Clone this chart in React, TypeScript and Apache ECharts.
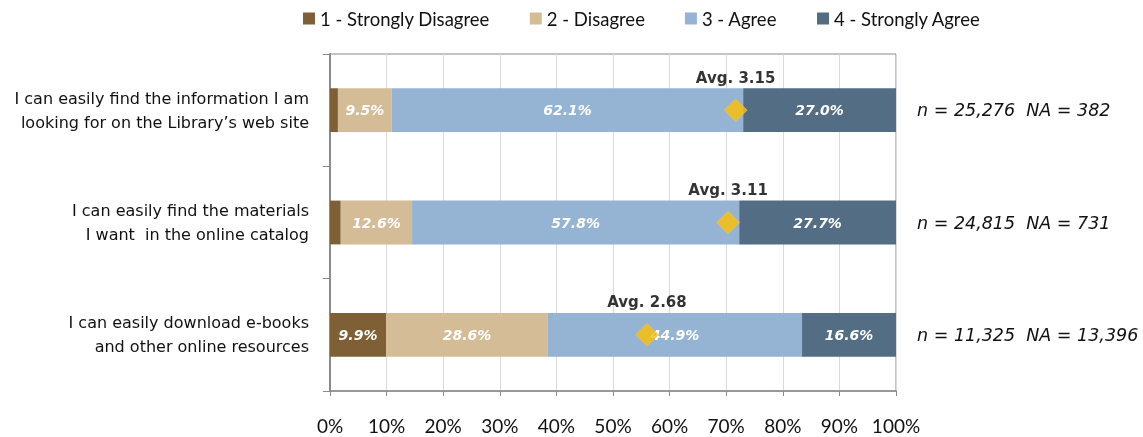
import React, { useEffect, useRef } from "react";
import * as echarts from "echarts";

const categories = [
  "I can easily find the information I am\nlooking for on the Library\u2019s web site",
  "I can easily find the materials\nI want  in the online catalog",
  "I can easily download e-books\nand other online resources",
];
const seriesNames = ["1 - Strongly Disagree", "2 - Disagree", "3 - Agree", "4 - Strongly Agree"];
const stronglyDisagree = [1.4, 1.9, 9.9];
const disagree = [9.5, 12.6, 28.6];
const agree = [62.1, 57.8, 44.9];
const stronglyAgree = [27.0, 27.7, 16.6];
const averages = [3.15, 3.11, 2.68];
const sampleNotes = ["n = 25,276  NA = 382", "n = 24,815  NA = 731", "n = 11,325  NA = 13,396"];
const hiddenLabelBelow = 5;

const colors = ["#7F6036", "#D4BC96", "#95B4D3", "#536D85"];
const FONT = "Lato";
const WIDE = "DejaVu Sans";

export default function App() {
  const ref = useRef<HTMLDivElement>(null);
  useEffect(() => {
    if (!ref.current) return;
    const chart = echarts.init(ref.current, undefined, { renderer: "svg" });
    const values = [stronglyDisagree, disagree, agree, stronglyAgree];
    const barSeries = values.map((vals, i) => ({
      name: seriesNames[i],
      type: "bar",
      stack: "total",
      barWidth: "39%",
      data: vals,
      itemStyle: { color: colors[i] },
      label: {
        show: true,
        position: "inside",
        color: "#fff",
        fontFamily: WIDE,
        fontSize: 14,
        fontWeight: "bold",
        fontStyle: "italic",
        formatter: (p: any) => (p.value < hiddenLabelBelow ? "" : p.value.toFixed(1) + "%"),
      },
    }));
    chart.setOption({
      animation: false,
      textStyle: { fontFamily: FONT },
      legend: {
        data: seriesNames,
        top: 4,
        left: 298,
        icon: "rect",
        itemWidth: 12,
        itemHeight: 12,
        itemGap: 40,
        textStyle: { fontFamily: FONT, fontSize: 18.5, color: "#111" },
      },
      grid: {
        left: 330,
        right: 247,
        top: 54,
        bottom: 46,
        show: true,
        borderColor: "#8a8a8a",
        borderWidth: 1,
      },
      xAxis: {
        type: "value",
        min: 0,
        max: 100,
        interval: 10,
        axisLine: { show: true, lineStyle: { color: "#8a8a8a", width: 1.5 } },
        axisTick: { show: true, length: 5, lineStyle: { color: "#8a8a8a" } },
        splitLine: { show: true, lineStyle: { color: "#d9d9d9", width: 1 } },
        axisLabel: {
          formatter: "{value}%",
          fontFamily: FONT,
          fontSize: 19,
          lineHeight: 19,
          color: "#111",
          margin: 25,
        },
      },
      yAxis: [
        {
          type: "category",
          inverse: true,
          data: categories,
          axisLine: { show: true, lineStyle: { color: "#8a8a8a", width: 2 } },
          axisTick: { show: true, length: 7, lineStyle: { color: "#8a8a8a" } },
          axisLabel: {
            fontFamily: WIDE,
            fontSize: 16,
            color: "#111",
            lineHeight: 24,
            margin: 21,
            align: "right",
          },
        },
        {
          type: "category",
          inverse: true,
          position: "right",
          data: sampleNotes,
          axisLine: { show: false },
          axisTick: { show: false },
          axisLabel: {
            fontFamily: WIDE,
            fontSize: 17.5,
            fontStyle: "italic",
            color: "#111",
            margin: 21,
            align: "left",
          },
        },
      ],
      series: [
        ...barSeries,
        {
          name: "Average",
          type: "scatter",
          symbol: "diamond",
          symbolSize: 23,
          z: 5,
          data: averages.map((a, i) => [((a - 1) / 3) * 100, i]),
          itemStyle: { color: "#FFC000", borderColor: "#d6c08a", borderWidth: 0.8 },
          label: {
            show: true,
            position: "top",
            distance: 13,
            color: "#000",
            fontFamily: WIDE,
            fontSize: 15,
            fontWeight: "bold",
            formatter: (p: any) => "Avg. " + averages[p.dataIndex].toFixed(2),
          },
        },
      ],
    });
    return () => chart.dispose();
  }, []);
  return (
    <div
      ref={ref}
      style={{ position: "fixed", left: 0, top: 0, width: 1143, height: 437 }}
    />
  );
}
